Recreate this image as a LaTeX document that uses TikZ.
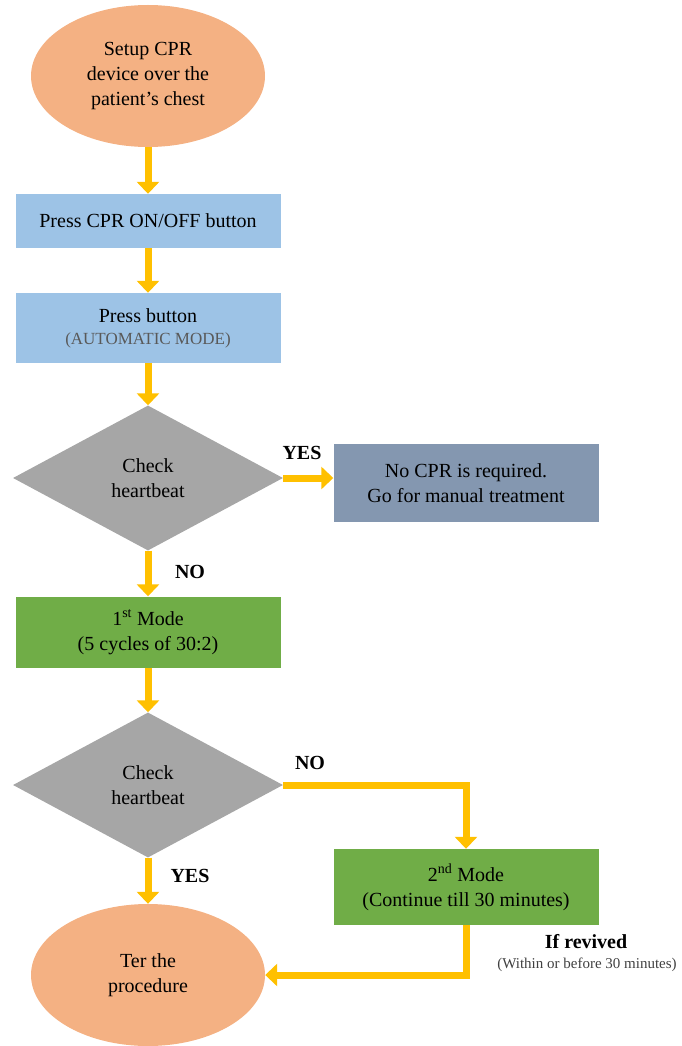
\documentclass[tikz,border=0pt]{standalone}
\usepackage{fontspec}
\setmainfont{Liberation Serif}
\usetikzlibrary{shapes.geometric,arrows.meta}

\definecolor{peach}{HTML}{F4B183}
\definecolor{skyblue}{HTML}{9DC3E6}
\definecolor{slateblue}{HTML}{8497B0}
\definecolor{leafgreen}{HTML}{70AD47}
\definecolor{stonegray}{HTML}{A6A6A6}
\definecolor{amber}{HTML}{FFC000}

\begin{document}
\begin{tikzpicture}[x=1pt, y=-1pt,
  every node/.style={font=\fontsize{20}{25}\selectfont, align=center, inner sep=0pt},
  terminal/.style={ellipse, fill=peach, minimum width=234pt, minimum height=142pt},
  stepbox/.style={rectangle, fill=#1, minimum width=265pt},
  check/.style={diamond, fill=stonegray, aspect=1.86, minimum width=270pt, minimum height=145pt},
  flow/.style={draw=amber, line width=7pt, line join=miter, -{Triangle[width=22pt,length=12pt]}},
  answer/.style={font=\fontsize{20}{25}\selectfont\bfseries}]
  \useasboundingbox (0,0) rectangle (681,1046);

  \node[terminal] (setup) at (148,76) {Setup CPR\\device over the\\patient's chest};
  \node[stepbox=skyblue, minimum height=54pt] (power) at (148,221) {Press CPR ON/OFF button};
  \node[stepbox=skyblue, minimum height=70pt] (auto) at (148,328)
    {Press button\\[-3pt]{\fontsize{17}{20}\selectfont\color[HTML]{595959}(AUTOMATIC MODE)}};
  \node[check] (beat1) at (148,478) {Check\\heartbeat};
  \node[stepbox=slateblue, minimum height=78pt] (manual) at (466,483)
    {No CPR is required.\\Go for manual treatment};
  \node[stepbox=leafgreen, minimum height=71pt] (mode1) at (148,632)
    {1\textsuperscript{st} Mode\\(5 cycles of 30:2)};
  \node[check] (beat2) at (148,785) {Check\\heartbeat};
  \node[stepbox=leafgreen, minimum height=76pt] (mode2) at (466,887)
    {2\textsuperscript{nd} Mode\\(Continue till 30 minutes)};
  \node[terminal] (stop) at (148,975) {Ter the\\procedure};

  \draw[flow] (setup) -- (power);
  \draw[flow] (power) -- (auto);
  \draw[flow] (auto) -- (beat1);
  \draw[flow] (beat1.east) -- (manual.west |- beat1.east);
  \draw[flow] (beat1) -- (mode1);
  \draw[flow] (mode1) -- (beat2);
  \draw[flow] (beat2.east) -| (mode2.north);
  \draw[flow] (beat2) -- (stop);
  \draw[flow] (mode2.south) |- (stop.east);

  \node[answer] (yes1) at (302,453) {YES};
  \node[answer] (no1) at (190,572) {NO};
  \node[answer] (no2) at (310,763) {NO};
  \node[answer] (yes2) at (190,876) {YES};
  \node[answer] (revived) at (586,942) {If revived};
  \node[font=\fontsize{15}{18}\selectfont, text=black!75] (within) at (587,965)
    {(Within or before 30 minutes)};
\end{tikzpicture}
\end{document}
